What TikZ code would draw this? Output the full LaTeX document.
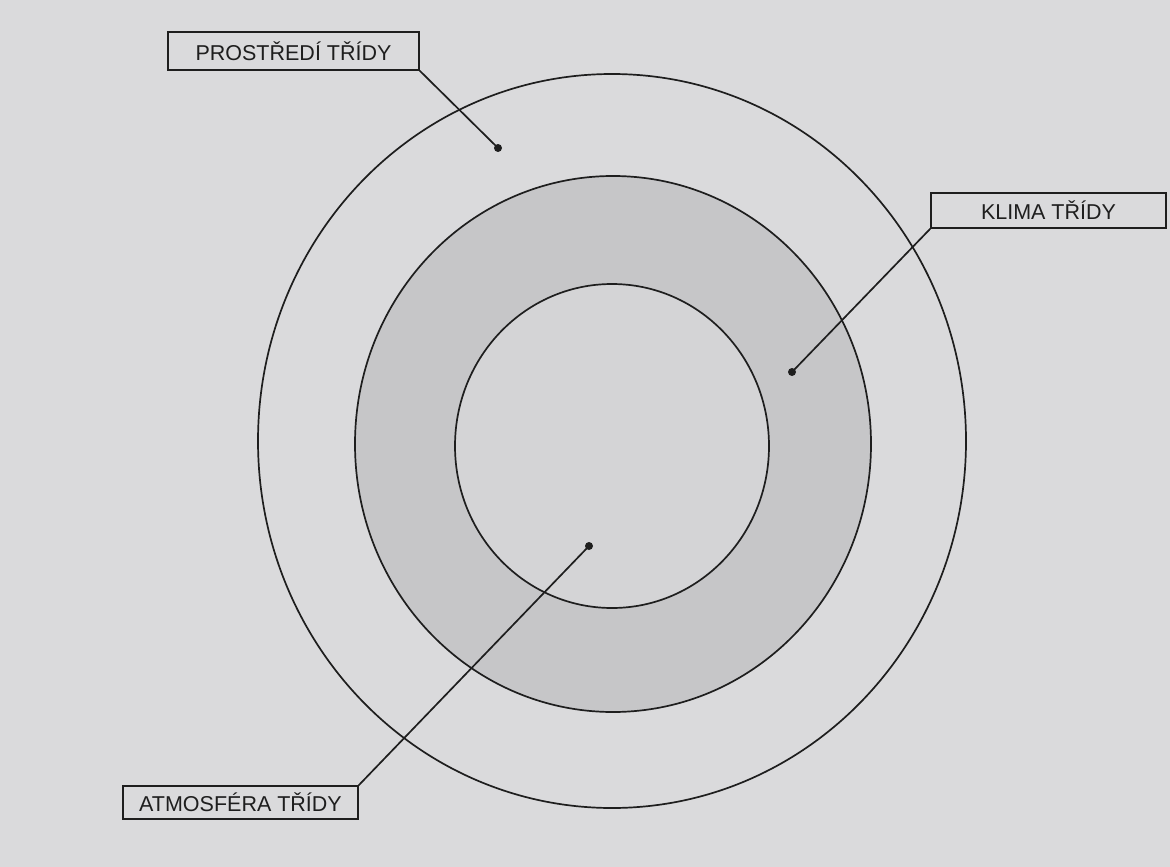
\documentclass[tikz,border=0pt]{standalone}
\usepackage{fontspec}
\setmainfont{Liberation Sans}
\definecolor{paper}{RGB}{218,218,220}
\definecolor{ring}{RGB}{198,198,200}
\definecolor{core}{RGB}{212,212,214}
\definecolor{ink}{RGB}{30,30,30}
\begin{document}
\begin{tikzpicture}[x=1pt,y=-1pt,
  circ/.style={draw=ink,line width=1.7pt},
  labelbox/.style={draw=ink,line width=1.4pt,fill=paper,inner sep=0pt,minimum height=36pt,font=\fontsize{21.5}{24}\selectfont,text=ink},
  leader/.style={draw=ink,line width=1.7pt},
  dotmark/.style={circle,fill=ink,inner sep=0pt,minimum size=8pt}]
\fill[paper] (0,0) rectangle (1170,867);
\useasboundingbox (0,0) rectangle (1170,867);
% circles
\fill[ring] (613,444) ellipse [x radius=258,y radius=268];
\fill[core] (612,446) ellipse [x radius=157,y radius=162];
\draw[circ] (612,441) ellipse [x radius=354,y radius=367];
\draw[circ] (613,444) ellipse [x radius=258,y radius=268];
\draw[circ] (612,446) ellipse [x radius=157,y radius=162];
% labels
\node[labelbox,minimum width=251pt,minimum height=38pt] (prostredi) at (293.5,51) {PROSTŘEDÍ TŘÍDY};
\node[labelbox,minimum width=235pt,minimum height=35pt] (klima) at (1048.5,210.5) {KLIMA TŘÍDY};
\node[labelbox,minimum width=235pt,minimum height=33pt] (atmosfera) at (240.5,802.5) {ATMOSFÉRA TŘÍDY};
% dots
\node[dotmark] (dp) at (498,148) {};
\node[dotmark] (dk) at (792,372) {};
\node[dotmark] (da) at (589,546) {};
% leaders
\draw[leader] (prostredi.south east) -- (dp.center);
\draw[leader] (klima.south west) -- (dk.center);
\draw[leader] (atmosfera.north east) -- (da.center);
\end{tikzpicture}
\end{document}
